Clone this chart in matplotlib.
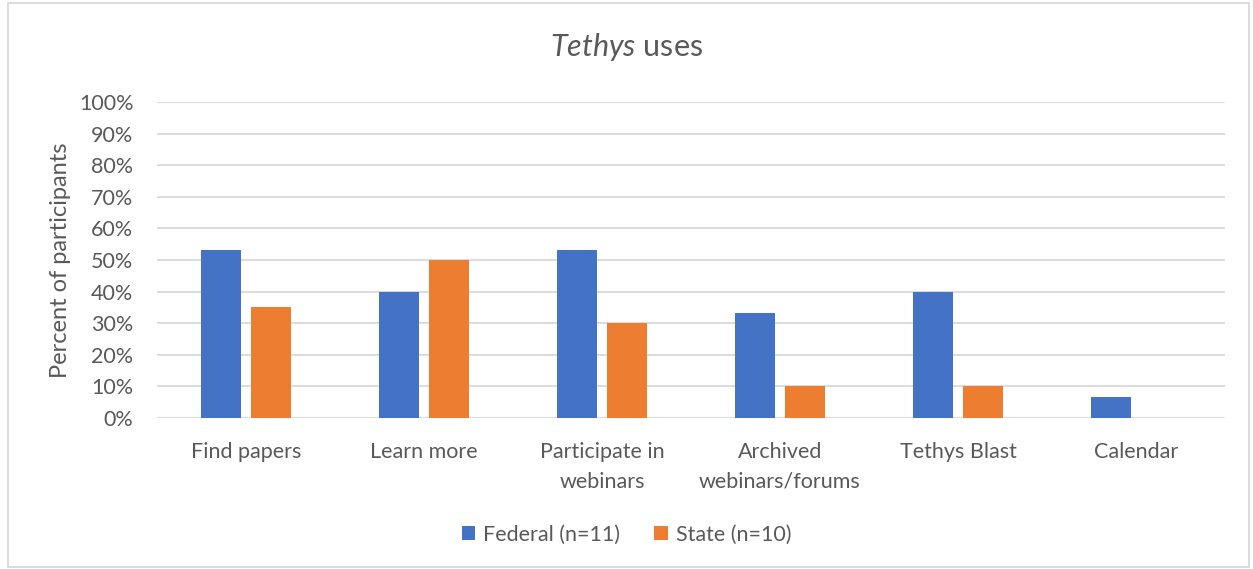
import numpy as np
import matplotlib
matplotlib.use("Agg")
import matplotlib.pyplot as plt
from matplotlib.ticker import PercentFormatter

plt.rcParams['font.family'] = ['Lato', 'DejaVu Sans']
plt.rcParams['mathtext.fontset'] = 'custom'
plt.rcParams['mathtext.it'] = 'Lato:italic'
plt.rcParams['mathtext.rm'] = 'Lato'

categories = ["Find papers", "Learn more", "Participate in\nwebinars",
              "Archived\nwebinars/forums", "Tethys Blast", "Calendar"]
federal = [53.3, 40.0, 53.3, 33.3, 40.0, 6.7]
state = [35.0, 50.0, 30.0, 10.0, 10.0, 0.0]
series_names = ["Federal (n=11)", "State (n=10)"]

blue = "#4472C4"
orange = "#ED7D31"
txt = "#595959"

fig = plt.figure(figsize=(12.53, 5.69), dpi=100)
ax = fig.add_axes([0.1253, 0.2654, 0.8523, 0.5553])

x = np.arange(len(categories))
w = 0.225
off = 0.14
ax.bar(x - off, federal, w, color=blue, label=series_names[0], zorder=3)
ax.bar(x + off, state, w, color=orange, label=series_names[1], zorder=3)

ax.set_xlim(-0.5, len(categories) - 0.5)
ax.set_ylim(0, 100)
ax.set_yticks(np.arange(0, 101, 10))
ax.yaxis.set_major_formatter(PercentFormatter(decimals=0))
ax.grid(axis='y', color="#D9D9D9", linewidth=1.3, zorder=0)
for s in ax.spines.values():
    s.set_visible(False)
ax.tick_params(length=0, labelsize=15.5, labelcolor=txt)
ax.tick_params(axis='y', pad=17)
ax.tick_params(axis='x', pad=17)
ax.set_xticks(x)
ax.set_xticklabels(categories, linespacing=1.65)
ax.set_ylabel("Percent of participants", fontsize=17, color=txt, labelpad=6)

fig.text(0.5, 0.918, r"$\it{Tethys}$ uses", ha='center', va='center',
         fontsize=22, color=txt)

ax.legend(loc='center', bbox_to_anchor=(0.5, 0.06), bbox_transform=fig.transFigure,
          ncol=2, frameon=False, fontsize=15.5, labelcolor=txt,
          handlelength=0.65, handleheight=0.65, handletextpad=0.35, columnspacing=1.6)

fig.patches.append(plt.Rectangle((0.006, 0.004), 0.991, 0.99, transform=fig.transFigure,
                                 fill=False, edgecolor="#D9D9D9", linewidth=1.3))

fig.savefig("out.png", dpi=100)
